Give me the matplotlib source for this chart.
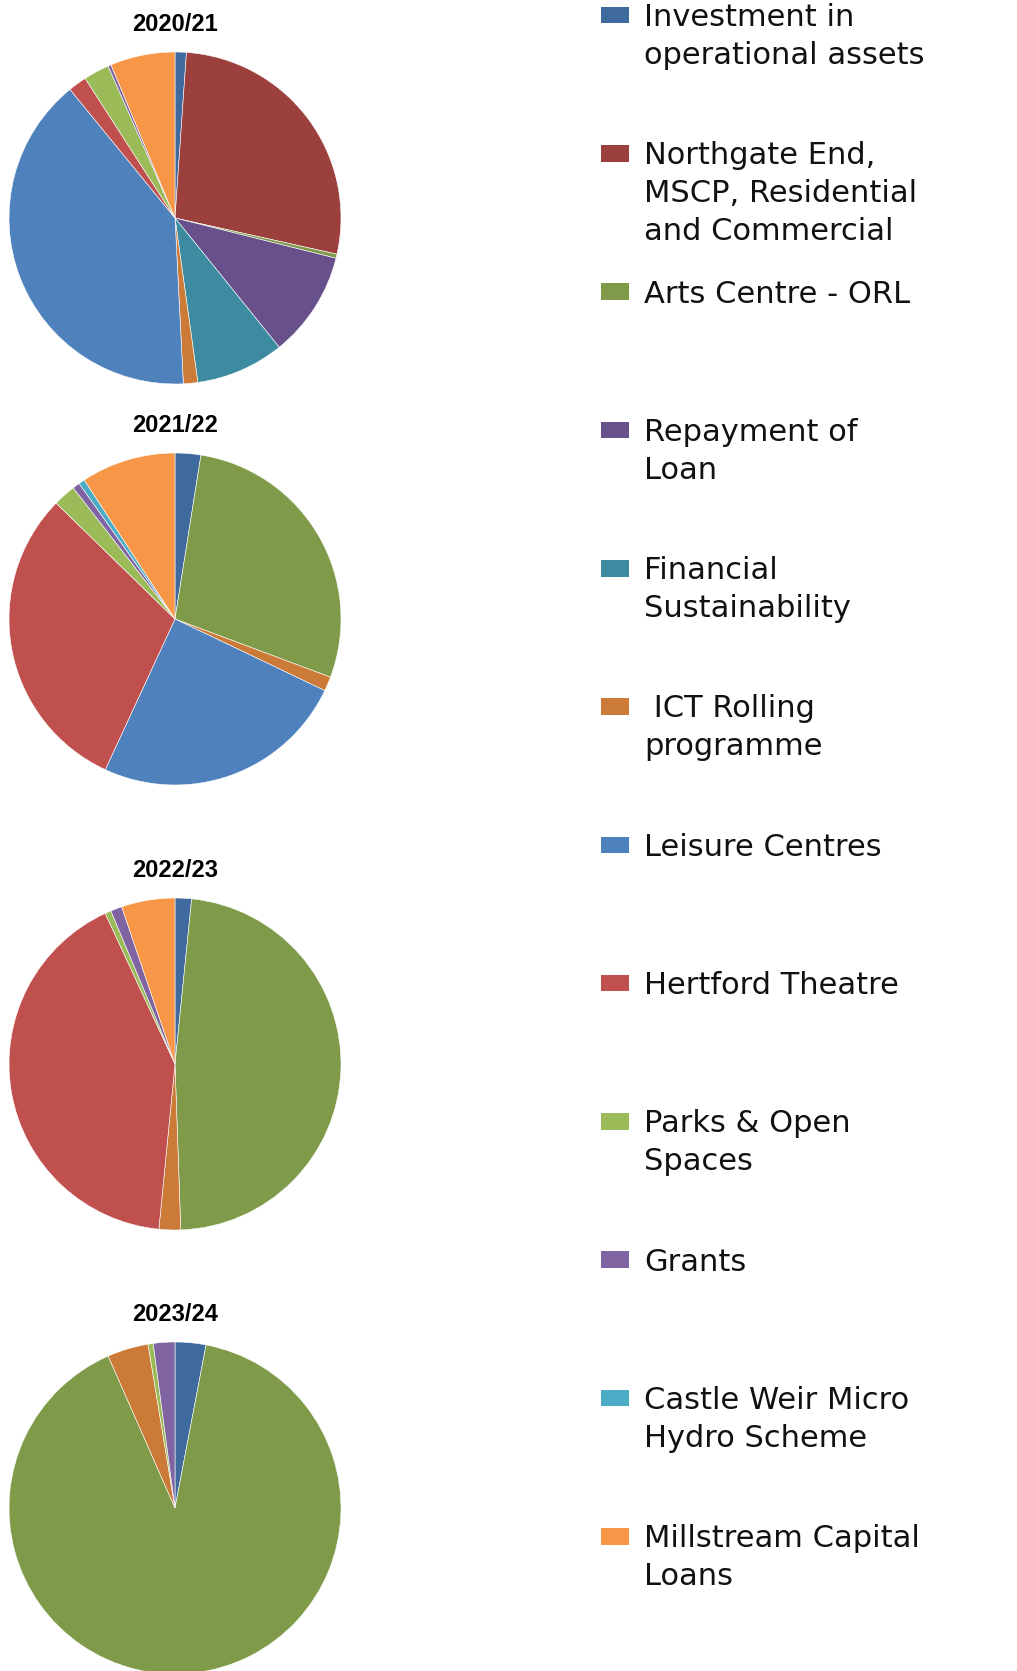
import matplotlib
matplotlib.use('Agg')
import matplotlib.pyplot as plt
from matplotlib.patches import Rectangle

# categories (legend order = slice order, clockwise from 12 o'clock)
categories = ['Investment in\noperational assets',
              'Northgate End,\nMSCP, Residential\nand Commercial',
              'Arts Centre - ORL',
              'Repayment of\nLoan',
              'Financial\nSustainability',
              ' ICT Rolling\nprogramme',
              'Leisure Centres',
              'Hertford Theatre',
              'Parks & Open\nSpaces',
              'Grants',
              'Castle Weir Micro\nHydro Scheme',
              'Millstream Capital\nLoans']
colors = ['#3F6A9D', '#9C403E', '#7F9B4A', '#68518A', '#3D8BA1', '#CB7A38',
          '#4F81BD', '#C0504D', '#9BBB59', '#8064A2', '#4BACC6', '#F79646']

years = ['2020/21', '2021/22', '2022/23', '2023/24']
# share of capital programme per year (%)
v2020 = [1.1, 27.4, 0.4, 10.3, 8.6, 1.4, 39.9, 1.8, 2.5, 0.3, 0.0, 6.3]
v2021 = [2.5, 0.0, 28.2, 0.0, 0.0, 1.4, 24.8, 30.4, 2.2, 0.7, 0.6, 9.2]
v2022 = [1.6, 0.0, 47.8, 0.0, 0.0, 2.1, 0.0, 41.5, 0.6, 1.1, 0.0, 5.2]
v2023 = [3.0, 0.0, 90.5, 0.0, 0.0, 4.0, 0.0, 0.0, 0.5, 2.1, 0.0, 0.0]
values = [v2020, v2021, v2022, v2023]

W, H = 1017, 1671
fig = plt.figure(figsize=(W / 100, H / 100), dpi=100)

# pie centres in pixels (x, y from top) and radius
cx = 175
cys = [218, 619, 1064, 1508]
r = 166

for year, vals, cy in zip(years, values, cys):
    ax = fig.add_axes([(cx - r) / W, 1 - (cy + r) / H, 2 * r / W, 2 * r / H])
    v = [x for x in vals if x > 0]
    c = [col for x, col in zip(vals, colors) if x > 0]
    ax.pie(v, colors=c, startangle=90, counterclock=False, radius=1,
           wedgeprops=dict(edgecolor='white', linewidth=0.4))
    ax.set_xlim(-1, 1)
    ax.set_ylim(-1, 1)
    ax.set_aspect('equal')
    ax.set_title(year, fontsize=17, fontweight='bold', family='Liberation Sans', pad=15)

# legend drawn in pixel coordinates
lax = fig.add_axes([0, 0, 1, 1], zorder=-1)
lax.set_xlim(0, W)
lax.set_ylim(H, 0)
lax.axis('off')
fs = 22
em = fs * 100 / 72
for i, (lab, col) in enumerate(zip(categories, colors)):
    yc = 15 + 138.3 * i
    lax.add_patch(Rectangle((601, yc - 8.3), 28, 16.6, facecolor=col, edgecolor='none'))
    lax.text(644, yc - 0.395 * em, lab, fontsize=fs, family='DejaVu Sans',
             va='top', ha='left', linespacing=1.38, color='#111111')

fig.savefig('out.png', dpi=100)
